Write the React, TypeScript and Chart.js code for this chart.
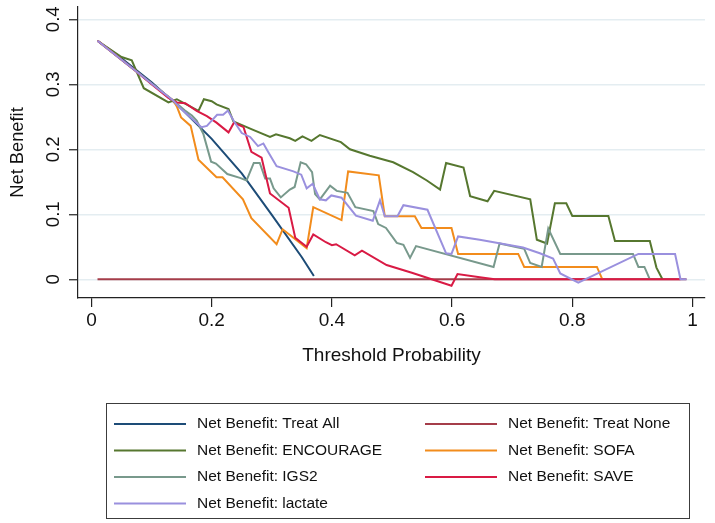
import React, { useEffect, useRef } from "react";
import { Chart, registerables } from "chart.js";

Chart.register(...registerables);

// ---------- data ----------
const X_TICKS = [0, 0.2, 0.4, 0.6, 0.8, 1];
const X_TICK_LABELS = ["0", "0.2", "0.4", "0.6", "0.8", "1"];
const Y_TICKS = [0, 0.1, 0.2, 0.3, 0.4];
const Y_TICK_LABELS = ["0", "0.1", "0.2", "0.3", "0.4"];

const TREAT_ALL_X = [0.01, 0.05, 0.1, 0.15, 0.2, 0.25, 0.3, 0.35, 0.37];
const TREAT_ALL_Y = [0.367, 0.34, 0.303, 0.262, 0.216, 0.163, 0.099, 0.034, 0.005];

const TREAT_NONE_X = [0.01, 0.99];
const TREAT_NONE_Y = [0, 0];

const ENCOURAGE_X = [0.01, 0.05, 0.067, 0.087, 0.128, 0.142, 0.178, 0.187, 0.2, 0.208, 0.228, 0.236, 0.266, 0.297, 0.307, 0.33, 0.339, 0.351, 0.366, 0.38, 0.415, 0.43, 0.463, 0.502, 0.535, 0.558, 0.58, 0.59, 0.619, 0.63, 0.659, 0.67, 0.73, 0.741, 0.758, 0.771, 0.79, 0.8, 0.86, 0.871, 0.929, 0.94, 0.95];
const ENCOURAGE_Y = [0.367, 0.342, 0.337, 0.294, 0.272, 0.277, 0.259, 0.277, 0.274, 0.269, 0.262, 0.243, 0.231, 0.219, 0.223, 0.217, 0.213, 0.22, 0.213, 0.222, 0.211, 0.2, 0.19, 0.18, 0.165, 0.152, 0.138, 0.179, 0.172, 0.128, 0.12, 0.136, 0.123, 0.061, 0.055, 0.117, 0.117, 0.0975, 0.0975, 0.059, 0.059, 0.018, 0];

const SOFA_X = [0.01, 0.07, 0.108, 0.136, 0.142, 0.149, 0.165, 0.178, 0.208, 0.218, 0.252, 0.266, 0.308, 0.318, 0.358, 0.369, 0.416, 0.427, 0.478, 0.488, 0.538, 0.549, 0.599, 0.61, 0.71, 0.72, 0.841, 0.85];
const SOFA_Y = [0.367, 0.323, 0.295, 0.275, 0.266, 0.249, 0.236, 0.184, 0.157, 0.157, 0.123, 0.094, 0.054, 0.077, 0.048, 0.111, 0.091, 0.166, 0.16, 0.097, 0.097, 0.079, 0.079, 0.039, 0.039, 0.019, 0.019, 0];

const IGS2_X = [0.01, 0.07, 0.108, 0.136, 0.155, 0.167, 0.175, 0.186, 0.199, 0.207, 0.226, 0.247, 0.258, 0.27, 0.28, 0.289, 0.297, 0.303, 0.315, 0.33, 0.338, 0.348, 0.357, 0.367, 0.372, 0.38, 0.397, 0.408, 0.426, 0.439, 0.469, 0.477, 0.49, 0.508, 0.519, 0.53, 0.54, 0.669, 0.679, 0.72, 0.73, 0.749, 0.76, 0.78, 0.901, 0.91, 0.92, 0.929];
const IGS2_Y = [0.367, 0.323, 0.295, 0.275, 0.26, 0.252, 0.244, 0.224, 0.181, 0.178, 0.162, 0.156, 0.152, 0.179, 0.179, 0.155, 0.155, 0.14, 0.126, 0.138, 0.142, 0.18, 0.177, 0.165, 0.131, 0.123, 0.144, 0.136, 0.133, 0.111, 0.105, 0.085, 0.079, 0.056, 0.053, 0.033, 0.051, 0.019, 0.055, 0.047, 0.025, 0.019, 0.078, 0.039, 0.039, 0.019, 0.019, 0];

const SAVE_X = [0.01, 0.07, 0.1, 0.128, 0.142, 0.156, 0.175, 0.192, 0.208, 0.228, 0.237, 0.253, 0.266, 0.283, 0.297, 0.328, 0.339, 0.358, 0.369, 0.39, 0.4, 0.407, 0.438, 0.45, 0.491, 0.533, 0.599, 0.609, 0.646, 0.671, 0.98];
const SAVE_Y = [0.367, 0.323, 0.3, 0.279, 0.272, 0.271, 0.259, 0.251, 0.241, 0.226, 0.241, 0.234, 0.196, 0.187, 0.132, 0.11, 0.064, 0.05, 0.069, 0.057, 0.0525, 0.054, 0.037, 0.044, 0.022, 0.01, -0.01, 0.008, 0.003, 0, 0];

const LACTATE_X = [0.01, 0.07, 0.108, 0.136, 0.147, 0.183, 0.192, 0.2, 0.209, 0.219, 0.227, 0.237, 0.25, 0.264, 0.277, 0.286, 0.294, 0.308, 0.336, 0.349, 0.358, 0.368, 0.38, 0.39, 0.399, 0.416, 0.44, 0.468, 0.48, 0.488, 0.509, 0.519, 0.559, 0.59, 0.599, 0.61, 0.646, 0.718, 0.746, 0.768, 0.78, 0.81, 0.91, 0.971, 0.98, 0.99];
const LACTATE_Y = [0.367, 0.323, 0.295, 0.275, 0.264, 0.234, 0.236, 0.244, 0.253, 0.253, 0.2595, 0.243, 0.225, 0.219, 0.205, 0.209, 0.196, 0.174, 0.166, 0.161, 0.14, 0.147, 0.123, 0.1215, 0.129, 0.1255, 0.098, 0.09, 0.1215, 0.097, 0.097, 0.114, 0.107, 0.04, 0.039, 0.066, 0.061, 0.049, 0.04, 0.032, 0.009, -0.005, 0.039, 0.039, 0, 0];

const SERIES_LABELS = [
  "Net Benefit: Treat All",
  "Net Benefit: Treat None",
  "Net Benefit: ENCOURAGE",
  "Net Benefit: SOFA",
  "Net Benefit: IGS2",
  "Net Benefit: SAVE",
  "Net Benefit: lactate",
];
const SERIES_X = [TREAT_ALL_X, TREAT_NONE_X, ENCOURAGE_X, SOFA_X, IGS2_X, SAVE_X, LACTATE_X];
const SERIES_Y = [TREAT_ALL_Y, TREAT_NONE_Y, ENCOURAGE_Y, SOFA_Y, IGS2_Y, SAVE_Y, LACTATE_Y];
const SERIES_COLORS = ["#1d4c77", "#a53d4a", "#56772f", "#f28c1c", "#78998c", "#d91a44", "#9a90de"];

const FONT = '"Liberation Sans", Arial, Helvetica, sans-serif';

const legendBoxPlugin = {
  id: "legendBox",
  afterDraw(chart: any) {
    const ctx = chart.ctx;
    ctx.save();
    ctx.strokeStyle = "#3c3c3c";
    ctx.lineWidth = 1;
    ctx.strokeRect(106.5, 403.5, 583, 115);
    ctx.font = `15.5px ${FONT}`;
    ctx.textBaseline = "middle";
    ctx.textAlign = "left";
    chart.data.datasets.forEach((ds: any, i: number) => {
      const col = i % 2;
      const row = Math.floor(i / 2);
      const y = 424 + row * 26.5;
      const lx = col ? 425 : 114;
      ctx.strokeStyle = ds.borderColor;
      ctx.lineWidth = 2;
      ctx.beginPath();
      ctx.moveTo(lx, y);
      ctx.lineTo(lx + 72, y);
      ctx.stroke();
      ctx.fillStyle = "#111";
      ctx.fillText(ds.label, col ? 508 : 197, y);
    });
    ctx.restore();
  },
};

export default function App() {
  const ref = useRef<HTMLCanvasElement | null>(null);

  useEffect(() => {
    document.body.style.margin = "0";
    const canvas = ref.current;
    if (!canvas) return;
    const datasets = SERIES_LABELS.map((label, i) => ({
      label,
      data: SERIES_X[i].map((x, j) => ({ x, y: SERIES_Y[i][j] })),
      borderColor: SERIES_COLORS[i],
      backgroundColor: SERIES_COLORS[i],
      borderWidth: 2,
      pointRadius: 0,
      tension: 0,
      fill: false,
      order: SERIES_LABELS.length - i,
    }));
    const chart = new Chart(canvas, {
      type: "line",
      data: { datasets },
      plugins: [legendBoxPlugin],
      options: {
        responsive: false,
        animation: false,
        devicePixelRatio: 1,
        layout: { padding: { left: 0, top: 7, right: 10, bottom: 150 } },
        plugins: { legend: { display: false }, tooltip: { enabled: false } },
        scales: {
          x: {
            type: "linear",
            min: -0.02246,
            max: 1.0208,
            afterBuildTicks: (s: any) => {
              s.ticks = X_TICKS.map((v) => ({ value: v }));
            },
            afterFit: (s: any) => {
              s.height = 75;
              s.paddingLeft = 0;
              s.paddingRight = 0;
              s.paddingTop = 0;
              s.paddingBottom = 0;
            },
            ticks: {
              font: { family: FONT, size: 19 },
              color: "#111",
              padding: 2.6,
              maxRotation: 0,
              minRotation: 0,
              callback: (_v: any, i: number) => X_TICK_LABELS[i],
            },
            grid: {
              drawOnChartArea: false,
              drawTicks: true,
              tickLength: 9,
              color: "#222",
              tickColor: "#222",
              lineWidth: 1.2,
            },
            border: { display: true, color: "#222", width: 1.2 },
            title: {
              display: true,
              text: "Threshold Probability",
              font: { family: FONT, size: 19 },
              color: "#111",
              padding: { top: 0, bottom: 5.6 },
            },
          },
          y: {
            type: "linear",
            min: -0.02877,
            max: 0.4189,
            afterBuildTicks: (s: any) => {
              s.ticks = Y_TICKS.map((v) => ({ value: v }));
            },
            afterFit: (s: any) => {
              s.width = 78;
              s.paddingLeft = 0;
              s.paddingRight = 0;
              s.paddingTop = 0;
              s.paddingBottom = 0;
            },
            ticks: {
              font: { family: FONT, size: 18.5 },
              color: "#111",
              padding: 2,
              minRotation: 90,
              maxRotation: 90,
              crossAlign: "center",
              callback: (_v: any, i: number) => Y_TICK_LABELS[i],
            },
            grid: {
              drawOnChartArea: true,
              drawTicks: true,
              tickLength: 9,
              color: "#e4edf1",
              lineWidth: 1.5,
              tickColor: "#222",
              tickWidth: 1.2,
            },
            border: { display: true, color: "#222", width: 1.2 },
            title: {
              display: true,
              text: "Net Benefit",
              font: { family: FONT, size: 18.3 },
              color: "#111",
              padding: { top: 7.3, bottom: 0 },
            },
          },
        },
      },
    } as any);
    return () => chart.destroy();
  }, []);

  return (
    <div style={{ position: "absolute", left: 0, top: 0, width: 715, height: 523, background: "#fff" }}>
      <canvas ref={ref} width={715} height={523} />
    </div>
  );
}
